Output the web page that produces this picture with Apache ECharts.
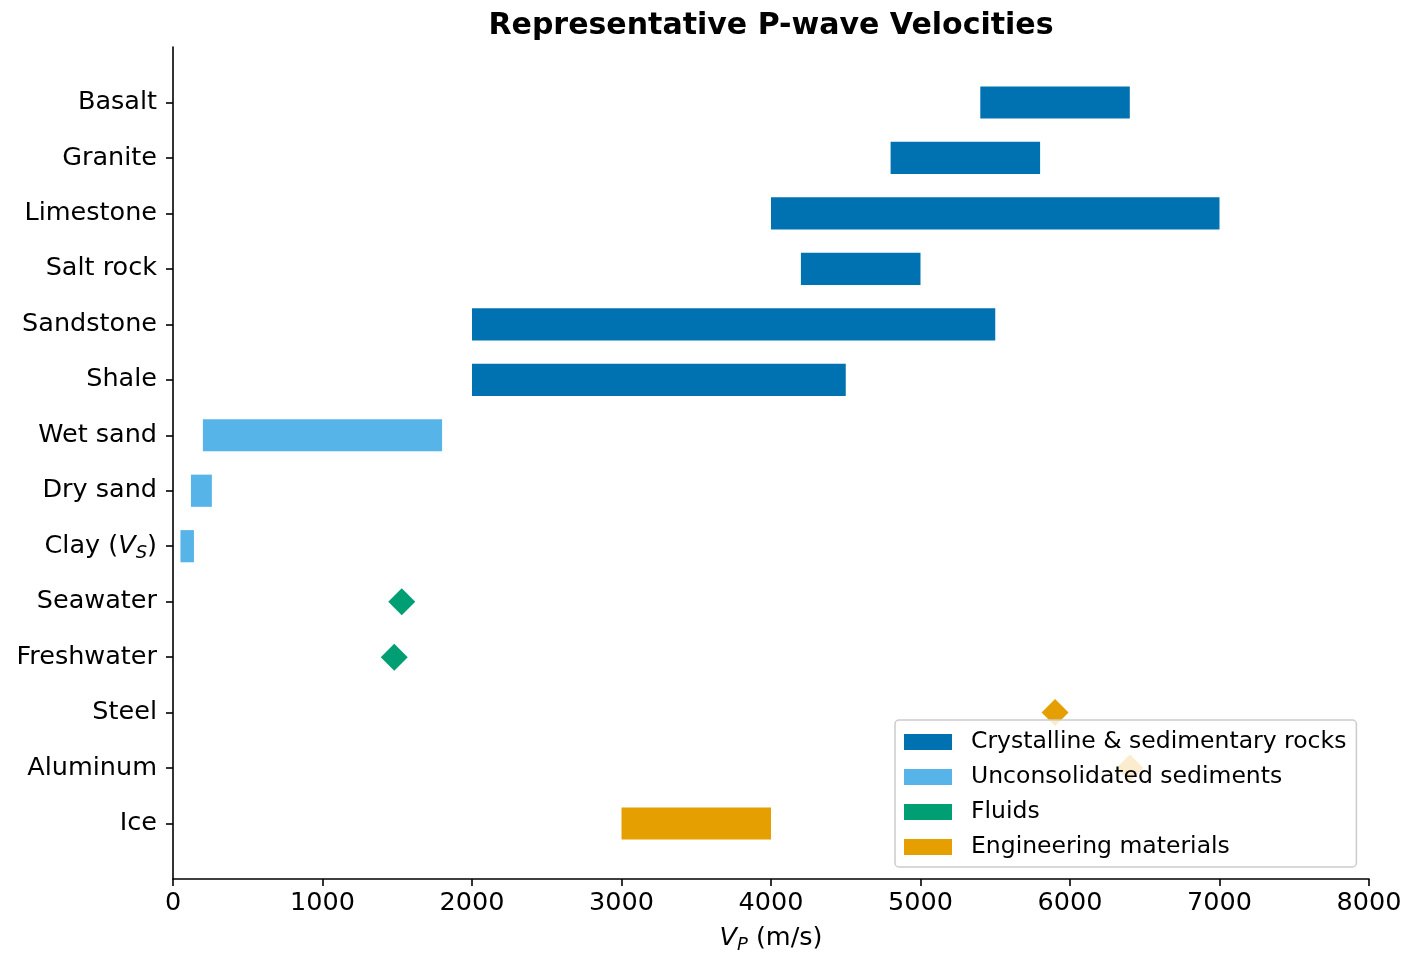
<!DOCTYPE html>
<html>
<head>
<meta charset="utf-8">
<script src="https://cdn.jsdelivr.net/npm/echarts@6/dist/echarts.min.js"></script>
<style>
  html, body { margin: 0; padding: 0; background: #fff; width: 100%; height: 100%; overflow: hidden; }
  #chart { position: absolute; left: 0; top: 0; width: 1407px; height: 955px; }
</style>
</head>
<body>
<div id="chart"></div>
<script>
// Row labels, top to bottom
const categories = ['Basalt', 'Granite', 'Limestone', 'Salt rock', 'Sandstone', 'Shale',
  'Wet sand', 'Dry sand', 'Clay (V_S)', 'Seawater', 'Freshwater', 'Steel', 'Aluminum', 'Ice'];

// Velocity ranges in m/s: [row, low, high]
const rockRanges = [
  ['Basalt', 5400, 6400],
  ['Granite', 4800, 5800],
  ['Limestone', 4000, 7000],
  ['Salt rock', 4200, 5000],
  ['Sandstone', 2000, 5500],
  ['Shale', 2000, 4500]
];
const sedimentRanges = [
  ['Wet sand', 200, 1800],
  ['Dry sand', 120, 260],
  ['Clay (V_S)', 50, 140]
];
// Single values in m/s: [row, velocity]
const fluidPoints = [
  ['Seawater', 1530],
  ['Freshwater', 1480]
];
const materialPoints = [
  ['Steel', 5900],
  ['Aluminum', 6400]
];
const materialRanges = [
  ['Ice', 3000, 4000]
];

const xTicks = [0, 1000, 2000, 3000, 4000, 5000, 6000, 7000, 8000];

const COLORS = {
  rocks: '#0072B2',
  sediments: '#56B4E9',
  fluids: '#009E73',
  materials: '#E69F00'
};
const FONT = 'DejaVu Sans';
const rowIndex = name => categories.indexOf(name);

function rangeData(list) {
  return list.map(([name, lo, hi]) => [lo, hi, rowIndex(name)]);
}
function pointData(list) {
  return list.map(([name, v]) => [v, rowIndex(name)]);
}

function renderRange(params, api) {
  const lo = api.coord([api.value(0), api.value(2)]);
  const hi = api.coord([api.value(1), api.value(2)]);
  const h = api.size([0, 0.58])[1];
  return {
    type: 'rect',
    shape: { x: lo[0], y: lo[1] - h / 2, width: hi[0] - lo[0], height: h },
    style: { fill: api.visual('color') }
  };
}

function rangeSeries(name, list, color) {
  return {
    name: name,
    type: 'custom',
    renderItem: renderRange,
    encode: { x: [0, 1], y: 2 },
    itemStyle: { color: color },
    data: rangeData(list),
    z: 2
  };
}

function pointSeries(name, list, color) {
  return {
    name: name,
    type: 'scatter',
    symbol: 'diamond',
    symbolSize: 27,
    itemStyle: { color: color, opacity: 1 },
    data: pointData(list),
    z: 3
  };
}

const rowValues = categories.map((_, i) => i);

const mathRich = {
  it: { fontFamily: FONT, fontSize: 25.5, fontStyle: 'italic', color: '#000', lineHeight: 32 },
  sub: { fontFamily: FONT, fontSize: 18, fontStyle: 'italic', color: '#000', lineHeight: 18, verticalAlign: 'bottom' }
};

const chart = echarts.init(document.getElementById('chart'), null, { renderer: 'canvas', width: 1407, height: 955 });

chart.setOption({
  animation: false,
  backgroundColor: '#ffffff',
  textStyle: { fontFamily: FONT },
  title: {
    text: 'Representative P-wave Velocities',
    left: 766,
    top: 6,
    textAlign: 'center',
    textStyle: { fontFamily: FONT, fontSize: 30, fontWeight: 'bold', color: '#000' }
  },
  grid: { left: 173, width: 1196, top: 47, height: 832, containLabel: false, outerBoundsMode: 'none' },
  legend: {
    orient: 'vertical',
    left: 895,
    top: 720,
    padding: [10, 10, 8, 9],
    itemWidth: 48,
    itemHeight: 16,
    itemGap: 11,
    backgroundColor: 'rgba(255,255,255,0.8)',
    borderColor: '#cccccc',
    borderWidth: 1.5,
    borderRadius: 4,
    textStyle: { fontFamily: FONT, fontSize: 23.5, color: '#000', lineHeight: 24, padding: [0, 0, 0, 14] },
    data: [
      { name: 'Crystalline & sedimentary rocks', icon: 'rect' },
      { name: 'Unconsolidated sediments', icon: 'rect' },
      { name: 'Fluids', icon: 'rect' },
      { name: 'Engineering materials', icon: 'rect' }
    ],
    selectedMode: false,
    z: 10
  },
  xAxis: {
    type: 'value',
    min: xTicks[0],
    max: xTicks[xTicks.length - 1],
    interval: 1000,
    axisLine: { show: true, onZero: false, lineStyle: { color: '#000', width: 1.6 } },
    axisTick: { show: true, inside: false, length: 7, lineStyle: { color: '#000', width: 1.6 } },
    axisLabel: {
      color: '#000', fontFamily: FONT, fontSize: 25.5, margin: 11,
      formatter: v => String(v)
    },
    splitLine: { show: false },
    name: '{it|V}{sub|P} (m/s)',
    nameLocation: 'middle',
    nameGap: 43,
    nameTextStyle: {
      fontFamily: FONT, fontSize: 25.5, color: '#000', lineHeight: 32,
      rich: mathRich
    }
  },
  yAxis: {
    type: 'value',
    inverse: true,
    min: -1,
    max: categories.length,
    interval: 1,
    axisLine: { show: true, onZero: false, lineStyle: { color: '#000', width: 1.6 } },
    axisTick: { show: true, inside: false, length: 7, customValues: rowValues, lineStyle: { color: '#000', width: 1.6 } },
    axisLabel: {
      customValues: rowValues,
      color: '#000',
      fontFamily: FONT,
      fontSize: 25.5,
      margin: 16,
      formatter: function (v) {
        const name = categories[Math.round(v)];
        if (!name) return '';
        if (name === 'Clay (V_S)') return 'Clay ({it|V}{sub|S})';
        return name;
      },
      rich: mathRich
    },
    splitLine: { show: false }
  },
  series: [
    rangeSeries('Crystalline & sedimentary rocks', rockRanges, COLORS.rocks),
    rangeSeries('Unconsolidated sediments', sedimentRanges, COLORS.sediments),
    pointSeries('Fluids', fluidPoints, COLORS.fluids),
    pointSeries('Engineering materials', materialPoints, COLORS.materials),
    rangeSeries('Engineering materials', materialRanges, COLORS.materials)
  ]
});
</script>
</body>
</html>
